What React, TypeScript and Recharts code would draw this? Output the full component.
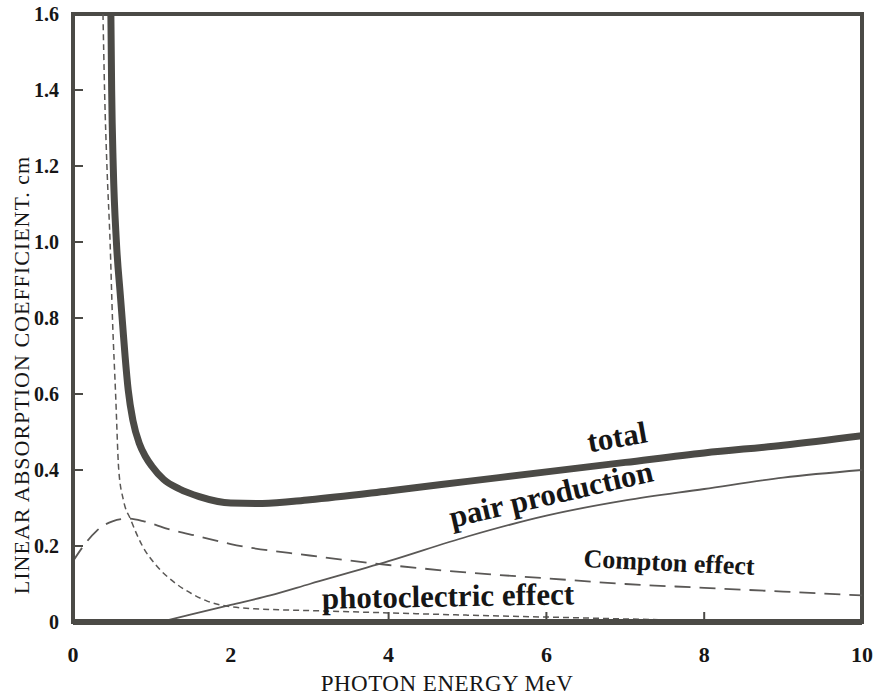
import { Line, LineChart, ReferenceArea, XAxis, YAxis } from 'recharts';

const xTicks = [0, 2, 4, 6, 8, 10];
const yTicks = [0, 0.2, 0.4, 0.6, 0.8, 1.0, 1.2, 1.4, 1.6];

const totalEnergy = [0.48, 0.49, 0.51, 0.55, 0.6, 0.63, 0.66, 0.7, 0.76, 0.84, 0.92, 1.0, 1.15, 1.35, 1.6, 2.0, 2.4, 3, 4, 5, 6, 7, 8, 9, 10];
const totalCoeff = [1.6, 1.4, 1.2, 1.0, 0.86, 0.78, 0.7, 0.61, 0.53, 0.47, 0.435, 0.41, 0.375, 0.35, 0.33, 0.313, 0.312, 0.322, 0.345, 0.37, 0.395, 0.42, 0.445, 0.465, 0.49];

const photoEnergy = [0.38, 0.4, 0.43, 0.47, 0.5, 0.54, 0.58, 0.64, 0.73, 0.88, 1.05, 1.28, 1.5, 1.7, 2, 2.5, 3, 4, 5, 6, 7, 8];
const photoCoeff = [1.6, 1.4, 1.2, 1.0, 0.8, 0.6, 0.4, 0.32, 0.27, 0.2, 0.15, 0.105, 0.075, 0.055, 0.04, 0.033, 0.03, 0.024, 0.018, 0.013, 0.008, 0.004];

const comptonEnergy = [0, 0.15, 0.3, 0.5, 0.7, 0.9, 1.2, 1.6, 2, 3, 4, 5, 6, 7, 8, 9, 10];
const comptonCoeff = [0.16, 0.205, 0.24, 0.265, 0.272, 0.265, 0.245, 0.225, 0.205, 0.175, 0.15, 0.13, 0.115, 0.1, 0.09, 0.08, 0.07];

const pairEnergy = [1.1, 1.5, 2, 2.5, 3, 4, 5, 6, 7, 8, 9, 10];
const pairCoeff = [0, 0.02, 0.045, 0.07, 0.1, 0.16, 0.225, 0.28, 0.32, 0.35, 0.38, 0.4];

const toPoints = (xs: number[], ys: number[]) => xs.map((x, i) => ({ x, y: ys[i] }));

const totalData = toPoints(totalEnergy, totalCoeff);
const photoData = toPoints(photoEnergy, photoCoeff);
const comptonData = toPoints(comptonEnergy, comptonCoeff);
const pairData = toPoints(pairEnergy, pairCoeff);

const FONT = '"Liberation Serif", "Times New Roman", serif';
const INK = '#4b4a46';
const TEXT = '#161616';

const XTick = ({ x, y, payload }: any) => {
  const v = payload.value;
  return (
    <g>
      {v > 2 && v < 10 && <line x1={x} x2={x} y1={y - 2} y2={y - 10} stroke={INK} strokeWidth={2} />}
      <text x={x} y={y + 40} textAnchor="middle" style={{ fontFamily: FONT, fontWeight: 'bold', fontSize: 22 }} fill={TEXT}>
        {v}
      </text>
    </g>
  );
};

const YTick = ({ x, y, payload }: any) => {
  const v = payload.value;
  return (
    <g>
      {v > 0 && v < 1.6 && <line x1={x} x2={x + 10} y1={y} y2={y} stroke={INK} strokeWidth={2} />}
      <text x={x - 14} y={y + 7} textAnchor="end" style={{ fontFamily: FONT, fontWeight: 'bold', fontSize: 20 }} fill={TEXT}>
        {v === 0 ? '0' : v.toFixed(1)}
      </text>
    </g>
  );
};

const labelStyle = (left: number, top: number, deg: number, size: number): React.CSSProperties => ({
  position: 'absolute',
  left,
  top,
  transform: `translate(-50%, -50%) rotate(${deg}deg)`,
  fontFamily: FONT,
  fontWeight: 'bold',
  fontSize: size,
  color: TEXT,
  whiteSpace: 'nowrap',
  lineHeight: 1,
});

export default function App() {
  return (
    <div style={{ position: 'absolute', left: 0, top: 0, width: 877, height: 696, background: '#fff' }}>
      <LineChart width={877} height={696} margin={{ top: 14, right: 15, bottom: 0, left: 0 }}>
        <XAxis
          dataKey="x"
          type="number"
          domain={[0, 10]}
          ticks={xTicks}
          allowDataOverflow
          height={74}
          tickSize={0}
          tickMargin={0}
          tickLine={false}
          axisLine={{ stroke: INK, strokeWidth: 6 }}
          tick={<XTick />}
        />
        <YAxis
          dataKey="y"
          type="number"
          domain={[0, 1.6]}
          ticks={yTicks}
          allowDataOverflow
          width={73}
          tickSize={0}
          tickMargin={0}
          tickLine={false}
          axisLine={{ stroke: INK, strokeWidth: 4 }}
          tick={<YTick />}
        />
        <ReferenceArea x1={0} x2={10} y1={0} y2={1.6} fill="none" stroke={INK} strokeWidth={4} ifOverflow="visible" />
        <Line data={comptonData} dataKey="y" type="monotone" stroke="#5a5856" strokeWidth={1.8} strokeDasharray="16 9" dot={false} isAnimationActive={false} />
        <Line data={photoData} dataKey="y" type="monotone" stroke="#5a5856" strokeWidth={1.5} strokeDasharray="6 4" dot={false} isAnimationActive={false} />
        <Line data={pairData} dataKey="y" type="monotone" stroke="#5a5856" strokeWidth={1.8} dot={false} isAnimationActive={false} />
        <Line data={totalData} dataKey="y" type="monotone" stroke={INK} strokeWidth={7} dot={false} isAnimationActive={false} />
      </LineChart>
      <div style={labelStyle(617, 437, -10, 31)}>total</div>
      <div style={labelStyle(551, 494, -13, 31)}>pair production</div>
      <div style={labelStyle(669, 563, 2.7, 26)}>Compton effect</div>
      <div style={labelStyle(448, 596, -1, 31)}>photoclectric effect</div>
      <div
        style={{
          position: 'absolute',
          left: 22,
          top: 375,
          transform: 'translate(-50%, -50%) rotate(-90deg)',
          fontFamily: FONT,
          fontSize: 22,
          letterSpacing: 1,
          color: TEXT,
          whiteSpace: 'nowrap',
          lineHeight: 1,
        }}
      >
        LINEAR ABSORPTION COEFFICIENT. cm
      </div>
      <div
        style={{
          position: 'absolute',
          left: 447,
          top: 683,
          transform: 'translate(-50%, -50%)',
          fontFamily: FONT,
          fontSize: 23,
          letterSpacing: 0.5,
          color: TEXT,
          whiteSpace: 'nowrap',
          lineHeight: 1,
        }}
      >
        PHOTON ENERGY MeV
      </div>
    </div>
  );
}
